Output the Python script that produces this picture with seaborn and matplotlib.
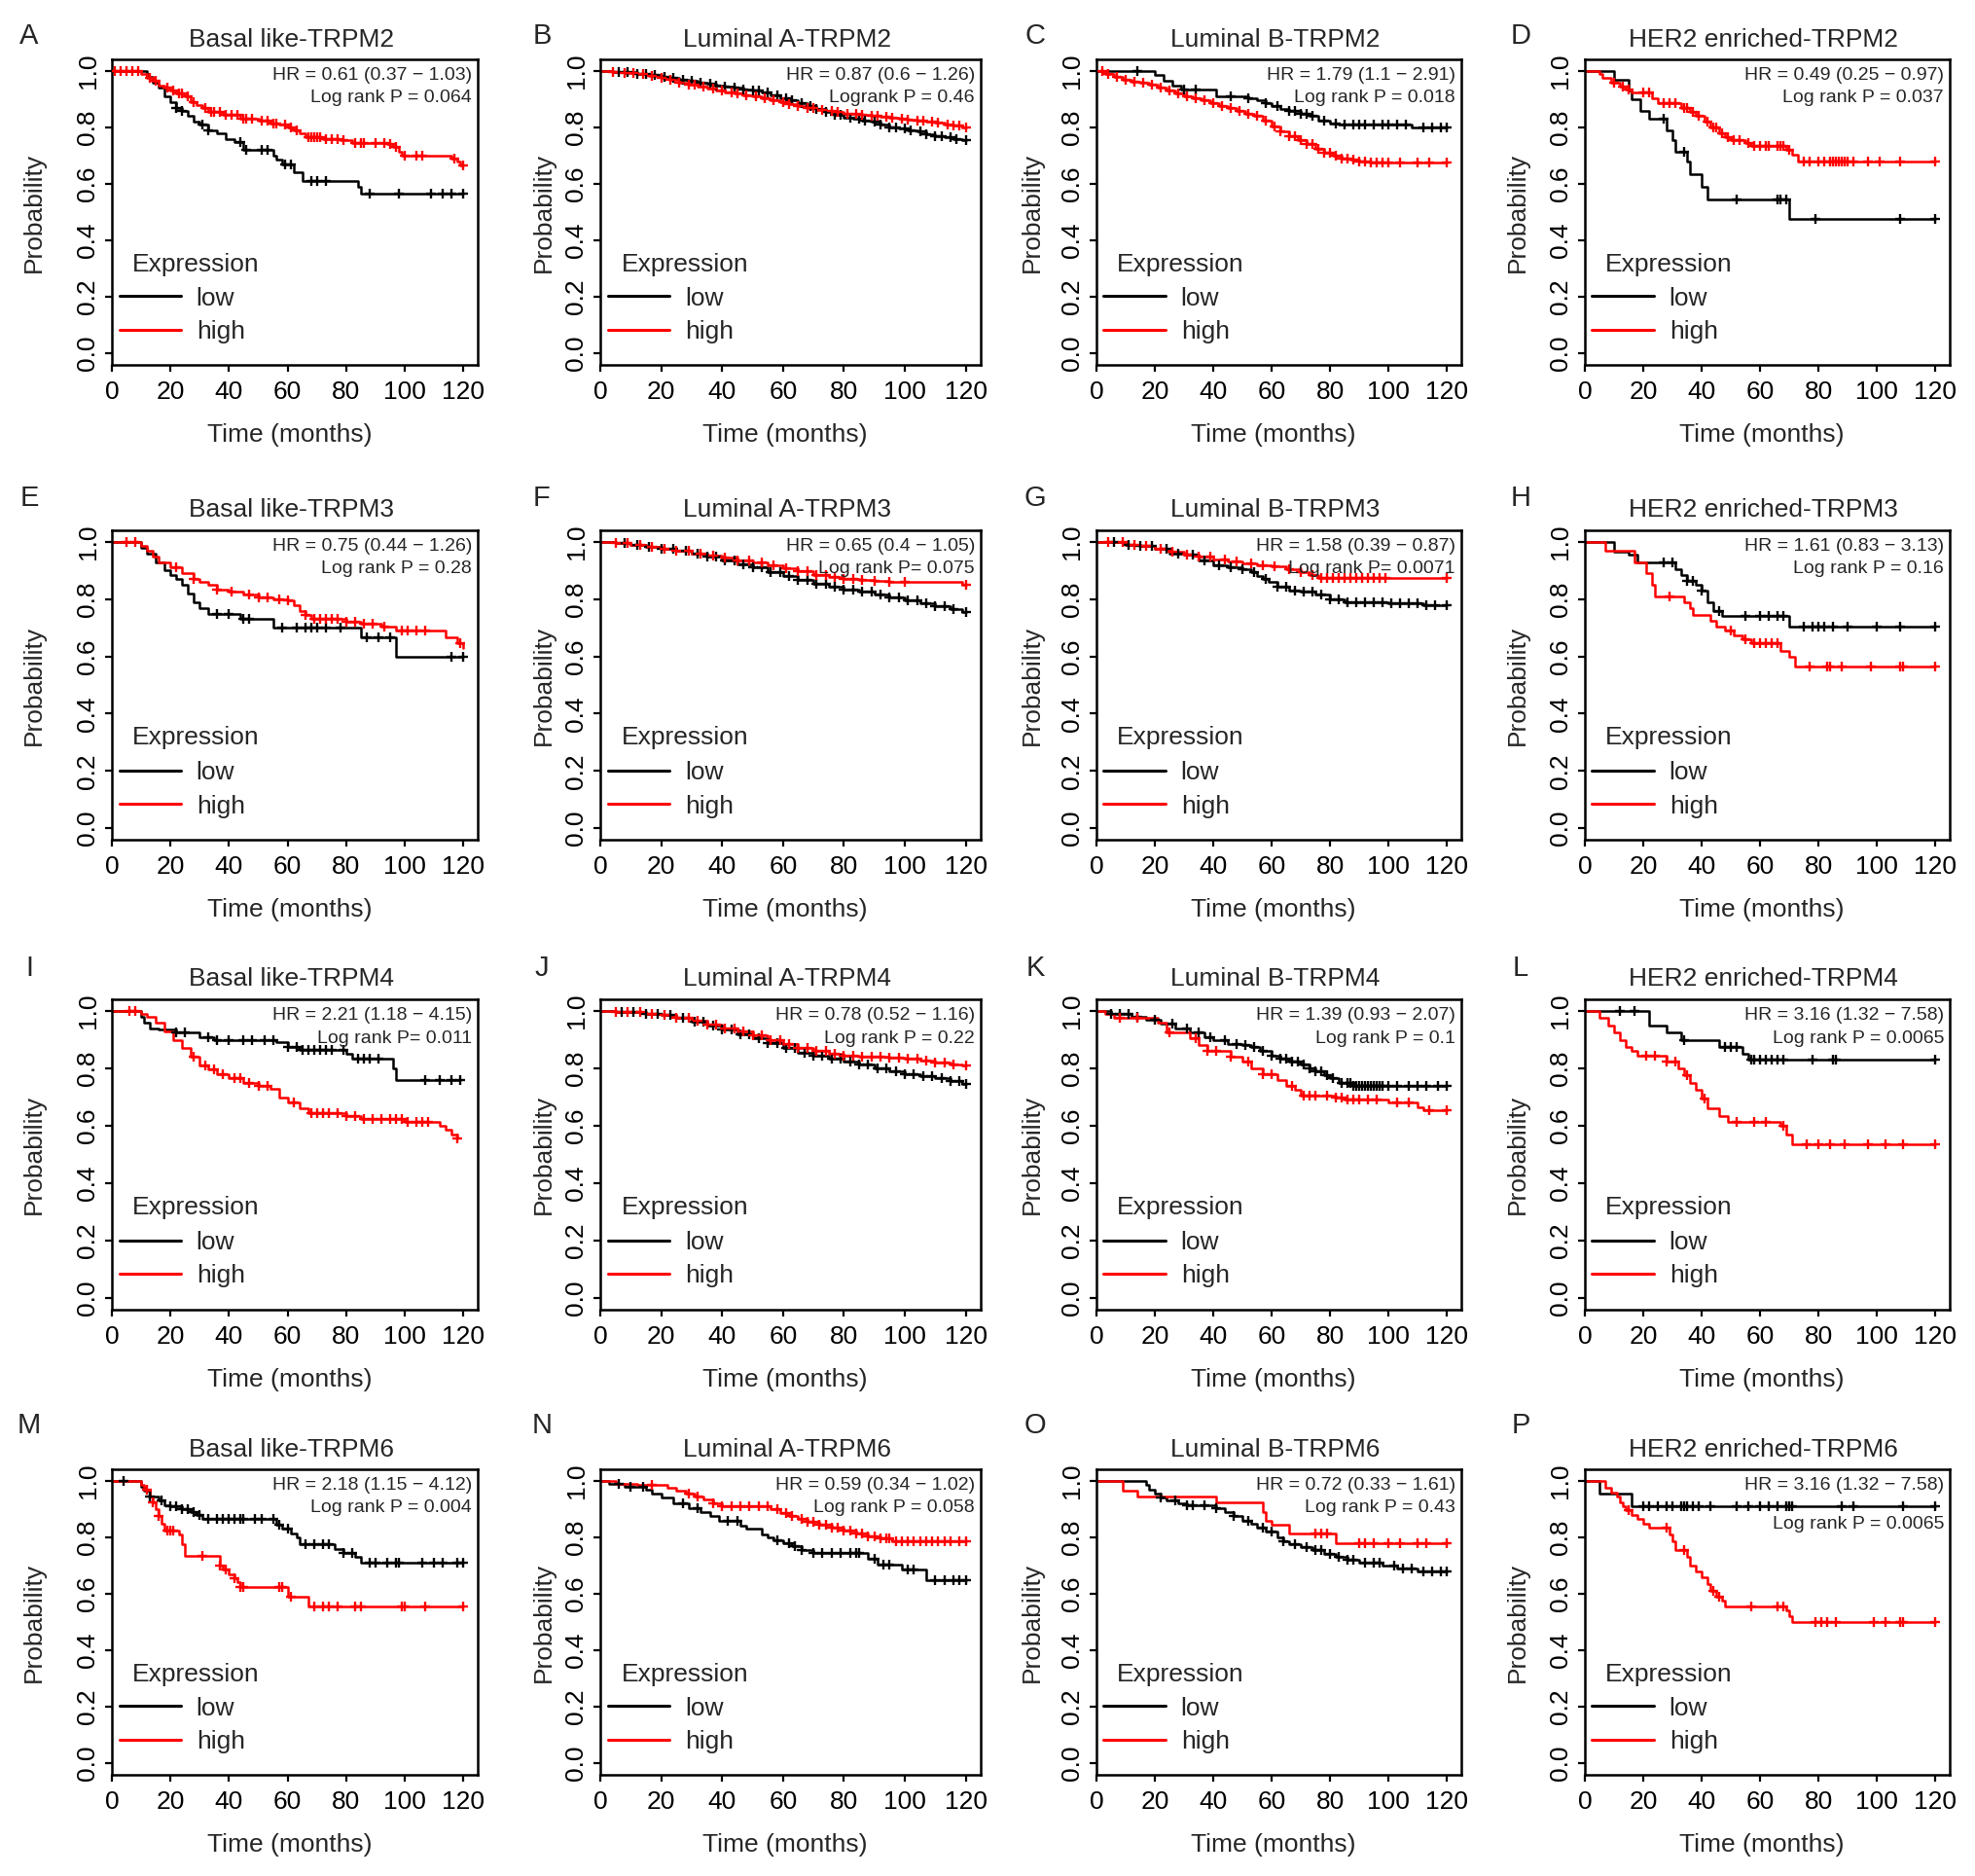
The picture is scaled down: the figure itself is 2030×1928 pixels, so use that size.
import numpy as np
import matplotlib
matplotlib.use("Agg")
import matplotlib.pyplot as plt
from matplotlib.lines import Line2D
import seaborn as sns

sns.set_style("ticks")
plt.rcParams['font.family'] = ['Liberation Sans', 'DejaVu Sans']

# ---------------------------------------------------------------
# panel texts

letters = list("ABCDEFGHIJKLMNOP")
titles = ["Basal like-TRPM2", "Luminal A-TRPM2", "Luminal B-TRPM2", "HER2 enriched-TRPM2",
          "Basal like-TRPM3", "Luminal A-TRPM3", "Luminal B-TRPM3", "HER2 enriched-TRPM3",
          "Basal like-TRPM4", "Luminal A-TRPM4", "Luminal B-TRPM4", "HER2 enriched-TRPM4",
          "Basal like-TRPM6", "Luminal A-TRPM6", "Luminal B-TRPM6", "HER2 enriched-TRPM6"]
hr_text = ["HR = 0.61 (0.37 \u2212 1.03)", "HR = 0.87 (0.6 \u2212 1.26)", "HR = 1.79 (1.1 \u2212 2.91)",
           "HR = 0.49 (0.25 \u2212 0.97)", "HR = 0.75 (0.44 \u2212 1.26)", "HR = 0.65 (0.4 \u2212 1.05)",
           "HR = 1.58 (0.39 \u2212 0.87)", "HR = 1.61 (0.83 \u2212 3.13)", "HR = 2.21 (1.18 \u2212 4.15)",
           "HR = 0.78 (0.52 \u2212 1.16)", "HR = 1.39 (0.93 \u2212 2.07)", "HR = 3.16 (1.32 \u2212 7.58)",
           "HR = 2.18 (1.15 \u2212 4.12)", "HR = 0.59 (0.34 \u2212 1.02)", "HR = 0.72 (0.33 \u2212 1.61)",
           "HR = 3.16 (1.32 \u2212 7.58)"]
p_text = ["Log rank P = 0.064", "Logrank P = 0.46", "Log rank P = 0.018", "Log rank P = 0.037",
          "Log rank P = 0.28", "Log rank P= 0.075", "Log rank P= 0.0071", "Log rank P = 0.16",
          "Log rank P= 0.011", "Log rank P = 0.22", "Log rank P = 0.1", "Log rank P = 0.0065",
          "Log rank P = 0.004", "Log rank P = 0.058", "Log rank P = 0.43", "Log rank P = 0.0065"]

# ---------------------------------------------------------------
# survival curves: t = step times (months), s = survival from t on, c = censor times

a_low_t = [0, 12, 14, 16, 18, 20, 22, 24, 26, 28, 30, 33, 36, 39, 42, 45, 55, 56, 58, 62, 65, 84, 85]
a_low_s = [1.0, .98, .96, .94, .91, .89, .87, .86, .84, .82, .81, .79, .78, .76, .75, .72, .70, .685, .67, .64, .61, .59, .565]
a_low_c = [22, 24, 31, 33, 44, 46, 51, 53, 59, 61, 68, 70, 73, 88, 98, 109, 113, 116, 120]
a_high_t = [0, 10, 12, 14, 16, 18, 20, 22, 25, 27, 29, 31, 33, 38, 44, 50, 54, 57, 60, 62, 64, 66, 72, 78, 82, 94, 96, 98, 99, 116, 118, 119]
a_high_s = [1.0, .99, .975, .965, .95, .94, .93, .92, .91, .89, .88, .87, .855, .845, .83, .825, .815, .81, .80, .79, .78, .765, .76, .755, .745, .74, .73, .715, .70, .69, .68, .665]
a_high_c = [1, 3, 5, 7, 9, 13, 15, 19, 21, 23, 24, 26, 28, 32, 34, 35, 37, 39, 41, 43, 45, 46, 48, 51, 53, 55, 56, 59, 61, 63, 67, 68, 69, 70, 71, 73, 75, 77, 79, 83, 85, 86, 90, 93, 95, 97, 100, 104, 106, 117, 120]

b_low_t = [0, 4, 8, 12, 16, 20, 23, 26, 29, 32, 35, 38, 41, 44, 47, 50, 53, 56, 59, 62, 65, 68, 71, 74, 77, 80, 83, 86, 89, 92, 95, 98, 101, 104, 107, 110, 113, 116, 119]
b_low_s = [1.0, .998, .995, .99, .985, .98, .975, .97, .965, .96, .955, .95, .945, .94, .935, .93, .925, .915, .905, .895, .885, .875, .865, .855, .845, .835, .83, .825, .82, .81, .80, .795, .79, .785, .775, .77, .765, .76, .755]
b_low_c = [6, 9, 12, 15, 18, 21, 24, 27, 30, 33, 36, 38, 41, 44, 47, 50, 52, 55, 58, 61, 63, 66, 69, 71, 74, 77, 79, 82, 85, 87, 90, 92, 95, 97, 100, 102, 105, 107, 110, 112, 115, 117, 120]
b_high_t = [0, 4, 8, 12, 16, 20, 23, 26, 29, 32, 35, 38, 41, 44, 47, 50, 53, 56, 59, 62, 65, 68, 71, 74, 77, 80, 83, 86, 89, 92, 95, 98, 101, 104, 107, 110, 113, 116, 119]
b_high_s = [1.0, .998, .993, .988, .982, .975, .968, .96, .952, .945, .937, .93, .925, .92, .915, .91, .905, .898, .89, .882, .875, .868, .862, .858, .854, .85, .847, .844, .84, .837, .834, .83, .827, .824, .82, .816, .812, .808, .80]
b_high_c = [4, 8, 11, 14, 17, 20, 23, 26, 29, 31, 34, 37, 40, 43, 45, 48, 51, 54, 57, 60, 62, 65, 68, 70, 73, 76, 78, 81, 84, 86, 89, 91, 94, 96, 99, 101, 104, 106, 109, 111, 114, 116, 118, 120]

c_low_t = [0, 20, 23, 26, 29, 41, 52, 55, 58, 60, 63, 66, 70, 73, 76, 80, 83, 108]
c_low_s = [1.0, .985, .965, .95, .935, .91, .905, .895, .885, .875, .865, .86, .85, .84, .825, .815, .81, .80]
c_low_c = [14, 30, 34, 46, 52, 58, 62, 66, 68, 70, 72, 74, 78, 82, 85, 88, 90, 92, 95, 98, 100, 103, 106, 112, 115, 118, 120]
c_high_t = [0, 3, 6, 9, 12, 15, 18, 21, 24, 27, 30, 33, 36, 39, 42, 45, 48, 51, 54, 57, 60, 63, 66, 69, 72, 75, 78, 81, 84, 87, 90, 94]
c_high_s = [1.0, .99, .98, .97, .962, .958, .952, .94, .93, .92, .912, .905, .895, .885, .875, .868, .86, .85, .84, .825, .805, .785, .77, .755, .74, .725, .71, .70, .69, .685, .68, .675]
c_high_c = [2, 4, 7, 10, 13, 16, 19, 22, 25, 28, 31, 34, 37, 40, 43, 46, 49, 52, 55, 58, 61, 63, 66, 68, 70, 72, 74, 76, 78, 80, 82, 84, 86, 88, 90, 92, 94, 96, 98, 100, 104, 110, 114, 120]

d_low_t = [0, 10, 15, 16, 19, 22, 28, 30, 31, 35, 36, 40, 42, 70]
d_low_s = [1.0, .97, .93, .90, .86, .83, .79, .755, .715, .68, .635, .59, .545, .475]
d_low_c = [27, 34, 52, 66, 67, 69, 79, 108, 120]
d_high_t = [0, 5, 6, 9, 12, 14, 16, 23, 25, 33, 36, 38, 41, 43, 46, 48, 50, 55, 57, 69, 71, 73]
d_high_s = [1.0, .99, .975, .96, .945, .935, .925, .905, .885, .87, .855, .84, .82, .80, .78, .765, .755, .745, .735, .72, .705, .68]
d_high_c = [10, 13, 15, 20, 22, 27, 29, 31, 34, 35, 37, 39, 42, 44, 45, 47, 49, 51, 53, 56, 58, 60, 62, 63, 66, 67, 68, 70, 75, 77, 80, 82, 84, 85, 86, 87, 88, 89, 90, 92, 97, 101, 108, 120]

e_low_t = [0, 10, 12, 15, 18, 20, 22, 24, 26, 28, 30, 33, 44, 55, 85, 97]
e_low_s = [1.0, .98, .96, .93, .90, .885, .87, .85, .82, .79, .77, .75, .73, .70, .665, .60]
e_low_c = [36, 40, 45, 47, 58, 63, 66, 68, 70, 73, 78, 87, 91, 95, 116, 120]
e_high_t = [0, 10, 12, 14, 16, 20, 24, 28, 30, 33, 36, 40, 45, 50, 55, 60, 62, 64, 66, 68, 80, 85, 92, 97, 114, 118, 120]
e_high_s = [1.0, .985, .97, .95, .93, .91, .89, .87, .86, .85, .835, .825, .815, .805, .80, .795, .78, .76, .745, .73, .72, .715, .705, .69, .665, .645, .63]
e_high_c = [5, 8, 22, 28, 36, 41, 47, 50, 53, 57, 60, 66, 69, 71, 73, 75, 77, 80, 83, 86, 89, 93, 99, 101, 104, 107, 119]

f_low_t = [0, 5, 10, 15, 20, 25, 30, 35, 40, 45, 50, 55, 60, 65, 70, 75, 80, 85, 90, 95, 100, 105, 110, 115, 119]
f_low_s = [1.0, .997, .99, .983, .975, .968, .96, .948, .935, .922, .91, .895, .88, .868, .855, .845, .835, .825, .815, .805, .795, .785, .775, .765, .755]
f_low_c = [8, 12, 16, 20, 24, 28, 32, 35, 38, 41, 44, 47, 50, 53, 56, 59, 62, 65, 68, 71, 74, 77, 80, 83, 86, 89, 92, 95, 98, 101, 104, 107, 110, 113, 116, 120]
f_high_t = [0, 5, 10, 15, 20, 25, 30, 35, 40, 45, 50, 55, 60, 65, 70, 75, 80, 85, 90, 95, 119]
f_high_s = [1.0, .997, .99, .983, .975, .968, .96, .952, .945, .937, .93, .92, .908, .897, .885, .876, .87, .867, .864, .86, .85]
f_high_c = [5, 9, 13, 17, 21, 25, 29, 33, 37, 41, 45, 49, 53, 57, 61, 65, 68, 71, 74, 77, 80, 83, 86, 90, 95, 100, 120]

g_low_t = [0, 10, 15, 20, 25, 30, 35, 40, 45, 50, 53, 55, 57, 59, 62, 66, 70, 75, 80, 85, 100, 112]
g_low_s = [1.0, .99, .985, .975, .96, .955, .935, .92, .91, .905, .895, .88, .87, .86, .845, .83, .825, .815, .80, .79, .785, .78]
g_low_c = [6, 11, 15, 19, 24, 28, 33, 37, 42, 46, 50, 54, 58, 62, 65, 68, 71, 74, 77, 80, 83, 86, 89, 92, 95, 98, 101, 104, 107, 110, 113, 116, 120]
g_high_t = [0, 10, 15, 20, 25, 30, 35, 40, 45, 50, 55, 60, 65, 70, 73, 76]
g_high_s = [1.0, .99, .985, .975, .965, .955, .948, .94, .932, .925, .92, .915, .905, .895, .885, .875]
g_high_c = [4, 9, 13, 17, 22, 26, 31, 35, 39, 44, 48, 53, 57, 61, 66, 70, 74, 77, 79, 81, 83, 85, 87, 89, 91, 93, 95, 97, 99, 120]

h_low_t = [0, 10, 15, 18, 31, 33, 35, 38, 40, 42, 44, 47, 70]
h_low_s = [1.0, .965, .955, .93, .905, .885, .865, .85, .83, .79, .76, .74, .705]
h_low_c = [27, 30, 35, 37, 40, 46, 55, 60, 63, 66, 68, 75, 78, 80, 82, 85, 90, 100, 108, 120]
h_high_t = [0, 7, 17, 21, 23, 24, 34, 36, 37, 43, 45, 48, 51, 54, 57, 67, 70, 72]
h_high_s = [1.0, .97, .93, .89, .85, .81, .79, .77, .745, .725, .705, .69, .675, .66, .645, .62, .60, .565]
h_high_c = [29, 50, 55, 58, 60, 62, 64, 66, 77, 83, 84, 88, 98, 108, 109, 120]

i_low_t = [0, 10, 11, 13, 16, 22, 30, 35, 56, 60, 64, 80, 82, 96, 97]
i_low_s = [1.0, .98, .96, .94, .935, .925, .91, .90, .89, .875, .865, .85, .835, .80, .76]
i_low_c = [22, 25, 33, 36, 40, 45, 48, 52, 55, 60, 63, 65, 67, 69, 71, 73, 75, 79, 84, 86, 88, 91, 107, 112, 116, 119]
i_high_t = [0, 10, 12, 15, 18, 21, 24, 27, 30, 33, 36, 40, 45, 50, 54, 57, 60, 64, 67, 80, 85, 100, 112, 114, 116, 118]
i_high_s = [1.0, .99, .98, .96, .93, .90, .87, .84, .81, .795, .78, .765, .75, .74, .73, .70, .68, .66, .645, .635, .625, .615, .60, .585, .57, .555]
i_high_c = [6, 8, 28, 32, 35, 38, 42, 44, 47, 50, 53, 62, 68, 70, 72, 74, 77, 80, 83, 86, 89, 92, 95, 97, 99, 101, 104, 106, 108, 118]

j_low_t = [0, 5, 10, 15, 20, 25, 30, 35, 40, 45, 50, 55, 60, 65, 70, 75, 80, 85, 90, 95, 100, 105, 110, 115, 119]
j_low_s = [1.0, .998, .995, .99, .985, .975, .963, .95, .935, .92, .905, .888, .87, .855, .845, .835, .825, .812, .80, .79, .78, .772, .765, .755, .745]
j_low_c = [7, 11, 15, 19, 23, 27, 31, 34, 37, 40, 43, 46, 49, 52, 55, 58, 61, 64, 67, 70, 73, 76, 79, 82, 85, 88, 91, 94, 97, 100, 103, 106, 109, 112, 115, 118, 120]
j_high_t = [0, 5, 10, 15, 20, 25, 30, 35, 40, 45, 50, 55, 60, 65, 70, 75, 80, 85, 90, 95, 100, 105, 110, 115, 119]
j_high_s = [1.0, .998, .995, .99, .985, .977, .966, .953, .94, .928, .915, .90, .885, .872, .86, .852, .845, .842, .84, .837, .835, .828, .82, .815, .81]
j_high_c = [5, 9, 13, 17, 21, 25, 29, 32, 35, 38, 41, 44, 47, 50, 53, 56, 59, 62, 65, 68, 71, 74, 77, 80, 83, 86, 89, 92, 95, 98, 101, 104, 107, 110, 113, 116, 120]

k_low_t = [0, 5, 12, 17, 22, 27, 32, 37, 40, 45, 50, 53, 56, 60, 63, 66, 70, 73, 75, 78, 80, 83, 88]
k_low_s = [1.0, .99, .98, .97, .955, .94, .925, .91, .90, .885, .88, .875, .86, .845, .835, .825, .815, .80, .79, .775, .765, .75, .74]
k_low_c = [5, 8, 11, 14, 20, 26, 31, 35, 39, 44, 48, 51, 54, 57, 60, 63, 65, 67, 69, 71, 73, 75, 77, 79, 81, 84, 86, 87, 88, 89, 90, 91, 92, 93, 94, 95, 96, 97, 98, 100, 103, 107, 110, 113, 117, 120]
k_high_t = [0, 3, 6, 21, 24, 32, 35, 38, 46, 50, 53, 57, 62, 65, 68, 70, 82, 85, 100, 110, 112]
k_high_s = [1.0, .99, .975, .96, .925, .905, .88, .86, .84, .825, .80, .78, .76, .74, .725, .705, .70, .69, .68, .665, .655]
k_high_c = [8, 14, 25, 34, 38, 41, 46, 52, 57, 60, 67, 71, 73, 75, 79, 82, 84, 86, 88, 90, 93, 96, 103, 107, 114, 120]

l_low_t = [0, 22, 28, 33, 46, 54, 56]
l_low_s = [1.0, .95, .925, .90, .875, .85, .83]
l_low_c = [12, 17, 34, 48, 50, 52, 57, 58, 60, 62, 64, 66, 68, 78, 85, 86, 120]
l_high_t = [0, 5, 8, 10, 12, 14, 16, 18, 28, 32, 34, 36, 38, 40, 42, 46, 49, 67, 69, 71]
l_high_s = [1.0, .975, .95, .925, .90, .875, .86, .845, .825, .80, .775, .75, .725, .695, .66, .635, .615, .60, .57, .535]
l_high_c = [21, 24, 28, 31, 35, 41, 52, 58, 62, 68, 76, 80, 84, 89, 97, 103, 109, 120]

m_low_t = [0, 10, 11, 13, 16, 18, 20, 24, 27, 29, 31, 56, 58, 61, 63, 64, 76, 79, 83, 85]
m_low_s = [1.0, .98, .965, .945, .93, .915, .91, .90, .89, .88, .865, .845, .83, .815, .80, .775, .76, .745, .73, .71]
m_low_c = [4, 13, 17, 20, 22, 24, 26, 28, 30, 33, 36, 38, 40, 42, 44, 45, 49, 51, 55, 57, 60, 66, 69, 72, 74, 79, 82, 88, 90, 94, 97, 98, 106, 110, 113, 118, 120]
m_high_t = [0, 10, 11, 13, 14, 15, 16, 17, 18, 23, 24, 25, 37, 38, 40, 42, 43, 44, 60, 67]
m_high_s = [1.0, .985, .97, .945, .925, .90, .875, .85, .825, .81, .775, .735, .70, .685, .67, .655, .64, .625, .59, .555]
m_high_c = [12, 14, 16, 19, 20, 21, 31, 37, 39, 42, 44, 45, 57, 58, 61, 69, 72, 74, 77, 83, 85, 99, 100, 107, 120]

n_low_t = [0, 3, 8, 15, 17, 20, 24, 29, 33, 36, 39, 46, 48, 53, 55, 57, 60, 63, 66, 70, 88, 91, 99, 107]
n_low_s = [1.0, .99, .98, .97, .955, .94, .92, .905, .89, .875, .86, .84, .83, .81, .80, .79, .78, .77, .755, .745, .725, .705, .685, .65]
n_low_c = [6, 10, 14, 27, 32, 42, 45, 58, 62, 64, 66, 70, 73, 76, 79, 82, 84, 85, 90, 93, 95, 101, 103, 110, 113, 116, 118, 120]
n_high_t = [0, 5, 12, 22, 25, 28, 31, 34, 37, 40, 56, 59, 62, 65, 68, 72, 76, 80, 84, 88, 92, 96]
n_high_s = [1.0, .99, .985, .975, .965, .955, .945, .935, .92, .91, .90, .885, .875, .865, .855, .845, .835, .825, .815, .805, .795, .785]
n_high_c = [17, 29, 32, 37, 40, 43, 46, 49, 52, 55, 58, 61, 63, 66, 68, 70, 72, 74, 76, 78, 80, 82, 84, 86, 88, 90, 92, 94, 95, 97, 99, 101, 103, 105, 107, 109, 111, 113, 115, 118, 120]

o_low_t = [0, 17, 18, 20, 22, 24, 28, 31, 41, 44, 47, 50, 53, 55, 58, 62, 64, 66, 70, 74, 78, 82, 86, 90, 98, 103, 110]
o_low_s = [1.0, .985, .97, .955, .94, .93, .92, .915, .905, .89, .875, .86, .85, .835, .82, .80, .785, .775, .765, .755, .74, .73, .72, .71, .70, .69, .68]
o_low_c = [22, 27, 31, 33, 37, 41, 47, 52, 57, 60, 64, 68, 72, 75, 77, 80, 83, 86, 88, 92, 95, 97, 102, 105, 108, 112, 115, 118, 120]
o_high_t = [0, 9, 14, 41, 57, 58, 60, 66, 82]
o_high_s = [1.0, .965, .945, .925, .89, .86, .845, .815, .78]
o_high_c = [75, 77, 79, 90, 92, 95, 100, 104, 110, 113, 120]

p_low_t = [0, 5, 16]
p_low_s = [1.0, .955, .91]
p_low_c = [20, 22, 25, 28, 30, 33, 34, 35, 37, 39, 43, 52, 56, 60, 63, 66, 69, 70, 71, 88, 92, 109, 120]
p_high_t = [0, 7, 9, 11, 12, 13, 14, 16, 18, 20, 22, 29, 30, 31, 35, 36, 38, 40, 42, 43, 45, 47, 48, 69, 70, 71]
p_high_s = [1.0, .975, .96, .945, .925, .91, .895, .88, .865, .85, .835, .81, .785, .755, .73, .70, .68, .66, .635, .61, .59, .575, .555, .54, .52, .50]
p_high_c = [15, 28, 34, 44, 46, 57, 66, 68, 79, 81, 83, 86, 99, 103, 108, 109, 120]

low_curves = [(a_low_t, a_low_s, a_low_c), (b_low_t, b_low_s, b_low_c), (c_low_t, c_low_s, c_low_c),
              (d_low_t, d_low_s, d_low_c), (e_low_t, e_low_s, e_low_c), (f_low_t, f_low_s, f_low_c),
              (g_low_t, g_low_s, g_low_c), (h_low_t, h_low_s, h_low_c), (i_low_t, i_low_s, i_low_c),
              (j_low_t, j_low_s, j_low_c), (k_low_t, k_low_s, k_low_c), (l_low_t, l_low_s, l_low_c),
              (m_low_t, m_low_s, m_low_c), (n_low_t, n_low_s, n_low_c), (o_low_t, o_low_s, o_low_c),
              (p_low_t, p_low_s, p_low_c)]
high_curves = [(a_high_t, a_high_s, a_high_c), (b_high_t, b_high_s, b_high_c), (c_high_t, c_high_s, c_high_c),
               (d_high_t, d_high_s, d_high_c), (e_high_t, e_high_s, e_high_c), (f_high_t, f_high_s, f_high_c),
               (g_high_t, g_high_s, g_high_c), (h_high_t, h_high_s, h_high_c), (i_high_t, i_high_s, i_high_c),
               (j_high_t, j_high_s, j_high_c), (k_high_t, k_high_s, k_high_c), (l_high_t, l_high_s, l_high_c),
               (m_high_t, m_high_s, m_high_c), (n_high_t, n_high_s, n_high_c), (o_high_t, o_high_s, o_high_c),
               (p_high_t, p_high_s, p_high_c)]

# ---------------------------------------------------------------
# layout (pixels of the 2031 x 1928 picture)

W, H = 2031, 1928
col_x0 = [115, 617, 1127, 1629]      # x of month 0
col_ppm = [3.01, 3.13, 3.0, 3.0]     # px per month
row_y1 = [73, 557, 1039, 1522]       # y of prob 1.0
row_y0 = [363, 851, 1334, 1812]      # y of prob 0.0
ylab_off = [80, 58, 66, 69]
letter_x = [30, 557, 1064, 1563]
letter_y = [37, 512, 995, 1465]
p_y = [0.905] * 15 + [0.845]

FS = 19


def km_draw(ax, t, s, c, color):
    t = np.array(t, float)
    s = np.array(s, float)
    c = np.array(c, float)
    end = max(t[-1], c.max())
    xx = np.append(t, end)
    yy = np.append(s, s[-1])
    sns.lineplot(x=xx, y=yy, ax=ax, color=color, lw=1.8, drawstyle='steps-post',
                 estimator=None, sort=False, legend=False)
    cy = s[np.searchsorted(t, c, side='right') - 1]
    sns.scatterplot(x=c, y=cy, ax=ax, marker='+', s=50, color=color,
                    linewidth=1.7, legend=False, zorder=3)


fig = plt.figure(figsize=(W / 100, H / 100), dpi=100)

for k in range(16):
    r, col = divmod(k, 4)
    unit = row_y0[r] - row_y1[r]
    top_px = row_y1[r] - 0.04 * unit
    bot_px = row_y0[r] + 0.04 * unit
    axw = 125 * col_ppm[col]
    axh = bot_px - top_px
    ax = fig.add_axes([col_x0[col] / W, 1 - bot_px / H, axw / W, axh / H])

    km_draw(ax, *low_curves[k], 'black')
    km_draw(ax, *high_curves[k], 'red')

    ax.set_xlim(0, 125)
    ax.set_ylim(-0.04, 1.04)
    ax.set_xticks(range(0, 121, 20))
    ax.set_yticks([0, 0.2, 0.4, 0.6, 0.8, 1.0])
    ax.set_yticklabels(['0.0', '0.2', '0.4', '0.6', '0.8', '1.0'], rotation=90, va='center')
    ax.tick_params(axis='both', direction='out', length=5, width=1.6, labelsize=FS, colors='black')
    ax.tick_params(axis='x', pad=7)
    ax.tick_params(axis='y', pad=4)
    for sp in ax.spines.values():
        sp.set_linewidth(1.8)
        sp.set_color('black')

    ax.set_xlabel('Time (months)', fontsize=FS)
    ax.xaxis.set_label_coords(0.485, -72 / axh)
    ax.xaxis.label.set_va('center')
    ax.set_ylabel('Probability', fontsize=FS)
    ax.yaxis.set_label_coords(-ylab_off[col] / axw, 0.5)
    ax.yaxis.label.set_va('center')

    ttl = ax.set_title(titles[k], fontsize=FS, pad=10)
    ttl.set_x(0.49)

    ax.text(123, 0.985, hr_text[k], ha='right', va='center', fontsize=14)
    ax.text(123, p_y[k], p_text[k], ha='right', va='center', fontsize=14)

    ax.text(7, 0.315, 'Expression', ha='left', va='center', fontsize=FS)
    handles = [Line2D([], [], color='black', lw=2.2), Line2D([], [], color='red', lw=2.2)]
    ax.legend(handles, ['low', 'high'], loc='center left', bbox_to_anchor=(0.02, 0.162),
              frameon=False, fontsize=FS, handlelength=2.4, handletextpad=0.6,
              labelspacing=0.4, borderpad=0, borderaxespad=0)

    fig.text(letter_x[col] / W, 1 - letter_y[r] / H, letters[k], fontsize=21,
             ha='center', va='center')

fig.savefig('out.png', dpi=100)
